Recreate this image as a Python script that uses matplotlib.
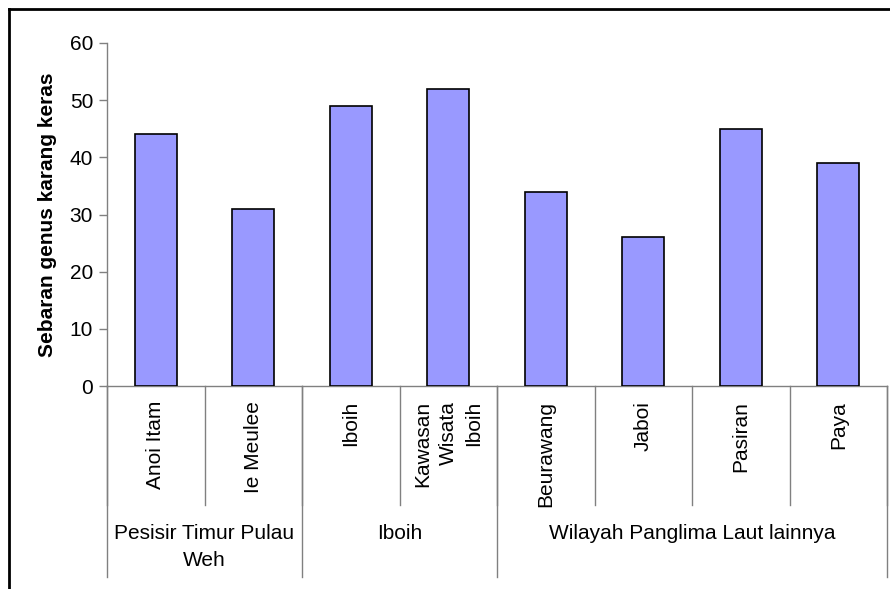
import matplotlib
matplotlib.use("Agg")
from matplotlib import pyplot as plt
from matplotlib.lines import Line2D
import numpy as np

# site names, hard coral genus counts and site groups
sites = ["Anoi Itam", "Ie Meulee", "Iboih", "Kawasan\nWisata\nIboih",
         "Beurawang", "Jaboi", "Pasiran", "Paya"]
genus_counts = [44, 31, 49, 52, 34, 26, 45, 39]
groups = ["Pesisir Timur Pulau\nWeh", "Iboih", "Wilayah Panglima Laut lainnya"]
group_sizes = [2, 2, 4]
yticks = [0, 10, 20, 30, 40, 50, 60]

plt.rcParams["font.family"] = ["Liberation Sans", "DejaVu Sans"]
FS = 15

W, H = 890, 589
fig = plt.figure(figsize=(W / 100, H / 100), dpi=100)
fig.patch.set_facecolor("white")

def fx(px):
    return px / W

def fy(py):
    return 1 - py / H

ax_left, ax_right, ax_top, ax_bottom = 107, 887, 43, 386
ax = fig.add_axes([fx(ax_left), fy(ax_bottom), fx(ax_right - ax_left), (ax_bottom - ax_top) / H])

n = len(sites)
x = np.arange(n)
ax.bar(x, genus_counts, width=0.43, color="#9999FF", edgecolor="black", linewidth=1.2, zorder=3)

ax.set_xlim(-0.5, n - 0.5)
ax.set_ylim(0, 60)
ax.set_yticks(yticks)
ax.tick_params(axis="y", direction="out", length=6, width=1, color="#808080",
               labelsize=FS, pad=4)
ax.set_xticks([])
for side in ["top", "right"]:
    ax.spines[side].set_visible(False)
for side in ["left", "bottom"]:
    ax.spines[side].set_color("#808080")
    ax.spines[side].set_linewidth(1)
ax.set_ylabel("Sebaran genus karang keras", fontsize=FS, fontweight="bold")
ax.yaxis.set_label_coords((57 - ax_left) / (ax_right - ax_left), 0.5)

grey = "#808080"
cat_w = (ax_right - ax_left) / n

# site labels and dividers between sites
for i, name in enumerate(sites):
    cx = ax_left + (i + 0.5) * cat_w
    fig.text(fx(cx), fy(401), name, rotation=90, ha="center", va="top",
             multialignment="right", fontsize=FS, linespacing=1.4)

for i in range(n + 1):
    px = ax_left + i * cat_w
    fig.add_artist(Line2D([fx(px), fx(px)], [fy(386), fy(505)], color=grey, lw=1))

# group labels and their dividers
edges = np.concatenate([[0], np.cumsum(group_sizes)])
for g, name in enumerate(groups):
    x0 = ax_left + edges[g] * cat_w
    x1 = ax_left + edges[g + 1] * cat_w
    fig.text(fx((x0 + x1) / 2), fy(524), name, ha="center", va="top",
             fontsize=FS, linespacing=1.5)
for e in edges:
    px = ax_left + e * cat_w
    fig.add_artist(Line2D([fx(px), fx(px)], [fy(386), fy(577)], color=grey, lw=1))

# chart area frame
fig.add_artist(Line2D([fx(9), 1], [fy(9), fy(9)], color="black", lw=2))
fig.add_artist(Line2D([fx(9), fx(9)], [fy(9), 0], color="black", lw=2))

fig.savefig("out.png", dpi=100)
